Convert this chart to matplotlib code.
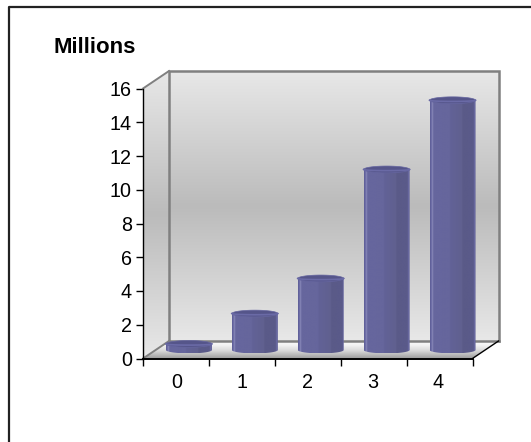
import numpy as np
import matplotlib
matplotlib.use('Agg')
import matplotlib.pyplot as plt
from matplotlib.colors import LinearSegmentedColormap
from matplotlib.patches import Polygon

categories = ['0', '1', '2', '3', '4']
values = [0.36, 2.16, 4.24, 10.7, 14.8]   # millions
y_ticks = [0, 2, 4, 6, 8, 10, 12, 14, 16]

W, H = 531, 442
plt.rcParams['font.family'] = ['Liberation Sans', 'DejaVu Sans']

fig = plt.figure(figsize=(W / 100, H / 100), dpi=100, facecolor='white')

# outer frame, only the top and left sides are there
fig.add_artist(plt.Line2D([8.5 / W, 8.5 / W, 1], [0, 1 - 6.5 / H, 1 - 6.5 / H],
                          color='#222222', lw=1.6))

# the axes are the front plane of the 3d box
left, right, top, bottom = 143, 472.5, 88.5, 358.5
ax = fig.add_axes([left / W, 1 - bottom / H, (right - left) / W, (bottom - top) / H])
ax.patch.set_visible(False)
for s in ['top', 'right']:
    ax.spines[s].set_visible(False)
ax.spines['left'].set_linewidth(1.0)
ax.spines['left'].set_zorder(20)
ax.spines['bottom'].set_linewidth(1.4)
ax.spines['bottom'].set_zorder(20)

# pixel sizes turned into data units
ux = (right - left) / 5
uy = (bottom - top) / 16
dx, dy = 26 / ux, 17.5 / uy      # depth of the box


def grad_fill(stops, extent, clip=None, vertical=True, z=1):
    cmap = LinearSegmentedColormap.from_list('g', stops)
    g = np.linspace(1, 0, 256).reshape(-1, 1) if vertical else np.linspace(0, 1, 256).reshape(1, -1)
    im = ax.imshow(g, cmap=cmap, extent=extent, aspect='auto', zorder=z, interpolation='bilinear',
                   vmin=0, vmax=1, clip_on=clip is not None)
    if clip is not None:
        p = Polygon(clip, closed=True, transform=ax.transData, fc='none', ec='none', clip_on=False)
        ax.add_patch(p)
        im.set_clip_path(p)
        im.set_clip_box(fig.bbox)   # the axes box would cut the shape otherwise
    return im


wall = [(0.0, '#e8e8e8'), (0.5, '#bbbbbb'), (1.0, '#e8e8e8')]

# back wall
grad_fill(wall, [dx, 5 + dx, dy, 16 + dy], z=1)
# side wall
side = [(0, 0), (dx, dy), (dx, 16 + dy), (0, 16)]
grad_fill(wall, [0, dx, 0, 16 + dy], clip=side, z=1)
# floor
floor = [(0, 0), (dx, dy), (5 + dx, dy), (5, 0)]
grad_fill([(0, '#a0a0a0'), (0.4, '#d8d8d8'), (0.7, '#f2f2f2'), (1, '#ffffff')],
          [0, 5 + dx, 0, dy], clip=floor, z=1)

# box edges
edge = dict(color='#808080', lw=1.8, zorder=2, clip_on=False, solid_joinstyle='miter')
ax.plot([dx, dx, 5 + dx, 5 + dx], [dy, 16 + dy, 16 + dy, dy], **edge)
ax.plot([dx, 5 + dx], [dy, dy], **edge)
ax.plot([0, dx], [16, 16 + dy], color='#808080', lw=1.4, zorder=2, clip_on=False)
ax.plot([0, dx], [0, dy], color='#808080', lw=1.4, zorder=2, clip_on=False)
ax.plot([5, 5 + dx], [0, dy], color='black', lw=1.0, zorder=2, clip_on=False)

# columns, shaded in facets like a many-sided cylinder
bar_w = 46 / ux
cx_off, cy_off = 13 / ux, 8.5 / uy
rx = bar_w / 2
ry = 3.4 / uy
facets = [(0.0, '#5c5c94'), (0.03, '#6b6ba6'), (0.055, '#8b8bba'), (0.075, '#66669e'),
          (0.43, '#66669c'), (0.44, '#626297'), (0.7, '#60608f'), (0.71, '#5a5a88'),
          (0.95, '#5a5a8a'), (0.97, '#6e6ea6'), (1.0, '#5c5c94')]

for i, v in enumerate(values):
    c = i + 0.5 + cx_off
    y0 = cy_off
    y1 = cy_off + v
    t = np.linspace(0, np.pi, 40)
    ex = c - rx * np.cos(t)
    # body outline: flat sides, rounded foot
    xs = np.r_[c - rx, ex, c + rx]
    ys = np.r_[y1, y0 - ry * np.sin(t), y1]
    body = np.column_stack([xs, ys])
    grad_fill(facets, [c - rx, c + rx, y0 - ry, y1 + ry], clip=body, vertical=False, z=5)
    # top cap
    t2 = np.linspace(0, 2 * np.pi, 60)
    cap = np.column_stack([c - rx * np.cos(t2), y1 + ry * np.sin(t2)])
    ax.add_patch(Polygon(cap, closed=True, fc='#55558a', ec='#6666a0', lw=0.5, zorder=6, clip_on=False))
    front = np.column_stack([c - rx * np.cos(t), y1 - ry * 0.35 * np.sin(t)])
    ax.plot(front[:, 0], front[:, 1], color='#6a6aa6', lw=1.2, zorder=7, clip_on=False)

# imshow moves the limits, so they are set after the drawing
ax.set_xlim(0, 5)
ax.set_ylim(0, 16)
ax.set_xticks(range(6))
ax.set_xticklabels([])
ax.set_yticks(y_ticks)
ax.set_yticklabels([str(t) for t in y_ticks], fontsize=14.2, color='black')
ax.tick_params(axis='y', length=5, width=1, pad=3)
ax.tick_params(axis='x', length=5, width=1)

# category labels sit between the tick marks
for i, name in enumerate(categories):
    ax.text(i * 0.99 + 0.51, -1.45, name, ha='center', va='center', fontsize=14.2, color='black')

fig.text(94.5 / W, 1 - 47.5 / H, 'Millions', ha='center', va='center', fontsize=16, fontweight='bold')

fig.savefig('out.png', dpi=100)
